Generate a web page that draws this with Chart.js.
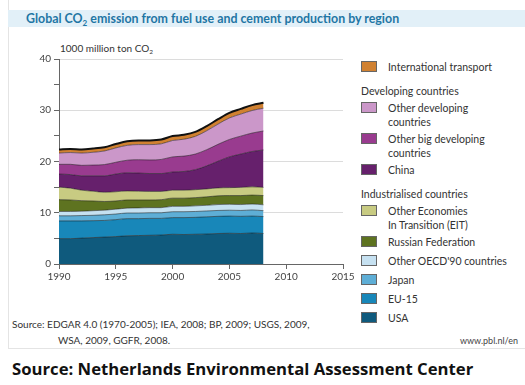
<!DOCTYPE html>
<html>
<head>
<meta charset="utf-8">
<script src="https://cdn.jsdelivr.net/npm/chart.js@4.4.0/dist/chart.umd.min.js"></script>
<style>
  body { margin: 0; width: 525px; height: 385px; background: #fff; font-family: Lato, "Open Sans", sans-serif; position: relative; overflow: hidden; }
  #card { position: absolute; left: 8px; top: 0; width: 517px; height: 348px; border-left: 1px solid #e4e4e4; border-bottom: 1px solid #e4e4e4; }
  #titleBand { position: absolute; left: 8px; top: 10px; width: 517px; height: 17px; background: #e2f0f8; }
  #title { position: absolute; left: 26px; top: 10px; font-size: 12.4px; font-weight: bold; color: #1f76a4; line-height: 17px; white-space: nowrap; }
  #unit { position: absolute; left: 60px; top: 42px; font-size: 10px; color: #333; white-space: nowrap; }
  #chartBox { position: absolute; left: 0; top: 0; width: 360px; height: 300px; }
  #legend { position: absolute; left: 361px; top: 0; font-size: 10.5px; color: #333; }
  .sw { position: absolute; left: 0; width: 16px; height: 11px; border: 1px solid #666; box-sizing: border-box; }
  .lt { position: absolute; left: 27px; line-height: 14px; white-space: nowrap; }
  .hd { position: absolute; left: 0; white-space: nowrap; }
  #src { position: absolute; left: 12px; top: 316px; font-size: 10px; color: #333; line-height: 16px; white-space: nowrap; }
  #www { position: absolute; right: 7px; top: 335px; font-size: 9px; color: #444; }
  #footer { position: absolute; left: 12px; top: 357px; font-family: "Open Sans", sans-serif; font-size: 16.7px; font-weight: bold; color: #111; white-space: nowrap; }
  sub { font-size: 0.65em; vertical-align: -0.35em; line-height: 0; }
</style>
</head>
<body>
<div id="card"></div>
<div id="titleBand"></div>
<div id="title">Global CO<sub>2</sub> emission from fuel use and cement production by region</div>
<div id="unit">1000 million ton CO<sub>2</sub></div>
<div id="chartBox"><canvas id="chartCO2"></canvas></div>
<div id="legend"></div>
<div id="src">Source: EDGAR 4.0 (1970-2005); IEA, 2008; BP, 2009; USGS, 2009,<br><span style="padding-left:46px">WSA, 2009, GGFR, 2008.</span></div>
<div id="www">www.pbl.nl/en</div>
<div id="footer">Source: Netherlands Environmental Assessment Center</div>

<script>
// Jaren en waarden (1000 miljoen ton CO2), van onder naar boven gestapeld
const anos = [1990, 1991, 1992, 1993, 1994, 1995, 1996, 1997, 1998, 1999, 2000, 2001, 2002, 2003, 2004, 2005, 2006, 2007, 2008];
const usa = [4.95, 4.95, 5.05, 5.15, 5.25, 5.35, 5.5, 5.55, 5.6, 5.65, 5.8, 5.75, 5.8, 5.85, 5.95, 6.0, 5.95, 6.05, 5.95];
const eu15 = [3.45, 3.45, 3.35, 3.3, 3.25, 3.3, 3.35, 3.3, 3.3, 3.25, 3.25, 3.3, 3.3, 3.35, 3.35, 3.35, 3.35, 3.3, 3.3];
const japan = [1.0, 1.0, 1.05, 1.05, 1.1, 1.1, 1.1, 1.1, 1.1, 1.1, 1.15, 1.15, 1.15, 1.15, 1.15, 1.15, 1.15, 1.2, 1.15];
const otherOecd = [0.85, 0.85, 0.85, 0.9, 0.9, 0.95, 0.95, 1.0, 1.0, 1.0, 1.05, 1.05, 1.1, 1.1, 1.15, 1.15, 1.15, 1.15, 1.15];
const russia = [2.3, 2.25, 2.05, 1.9, 1.7, 1.6, 1.6, 1.55, 1.5, 1.55, 1.6, 1.6, 1.6, 1.65, 1.7, 1.7, 1.75, 1.75, 1.8];
const otherEit = [2.45, 2.3, 2.05, 1.9, 1.8, 1.8, 1.75, 1.7, 1.65, 1.6, 1.55, 1.55, 1.55, 1.55, 1.55, 1.55, 1.6, 1.6, 1.6];
const china = [2.55, 2.65, 2.8, 3.0, 3.2, 3.45, 3.55, 3.55, 3.5, 3.5, 3.55, 3.65, 3.9, 4.5, 5.2, 6.0, 6.5, 6.9, 7.3];
const otherBig = [1.9, 2.0, 2.05, 2.1, 2.2, 2.3, 2.45, 2.6, 2.65, 2.75, 2.95, 3.0, 3.05, 3.15, 3.3, 3.4, 3.5, 3.6, 3.7];
const otherDev = [2.2, 2.3, 2.4, 2.5, 2.65, 2.8, 2.9, 2.95, 3.0, 3.05, 3.2, 3.3, 3.45, 3.7, 3.95, 4.2, 4.3, 4.4, 4.45];
const intlTransport = [0.7, 0.7, 0.7, 0.72, 0.74, 0.76, 0.78, 0.8, 0.82, 0.84, 0.86, 0.86, 0.87, 0.9, 0.95, 1.0, 1.02, 1.05, 1.05];

const xTicks = [1990, 1995, 2000, 2005, 2010, 2015];
const yTicks = [0, 10, 20, 30, 40];

const series = [
  { label: 'USA', data: usa, color: '#0f5a7d' },
  { label: 'EU-15', data: eu15, color: '#1887b9' },
  { label: 'Japan', data: japan, color: '#5eaed6' },
  { label: "Other OECD'90 countries", data: otherOecd, color: '#c6e1f1' },
  { label: 'Russian Federation', data: russia, color: '#5e7320' },
  { label: 'Other Economies In Transition (EIT)', data: otherEit, color: '#c8cb82' },
  { label: 'China', data: china, color: '#66206c' },
  { label: 'Other big developing countries', data: otherBig, color: '#993b8f' },
  { label: 'Other developing countries', data: otherDev, color: '#cb97c9' },
  { label: 'International transport', data: intlTransport, color: '#d08131' }
];

const datasets = series.map((s, i) => ({
  label: s.label,
  data: anos.map((a, j) => ({ x: a, y: s.data[j] })),
  backgroundColor: s.color,
  borderColor: i === series.length - 1 ? '#111' : 'rgba(20,20,20,0.75)',
  borderWidth: i === series.length - 1 ? 2 : 0.7,
  fill: i === 0 ? 'origin' : '-1',
  pointRadius: 0,
  cubicInterpolationMode: 'monotone'
}));

const ctx = document.getElementById('chartCO2').getContext('2d');
new Chart(ctx, {
  type: 'line',
  data: { datasets: datasets },
  options: {
    responsive: true,
    maintainAspectRatio: false,
    animation: false,
    layout: { padding: { left: 0, right: 17, top: 59, bottom: 0 } },
    plugins: { legend: { display: false }, tooltip: { enabled: false } },
    scales: {
      x: {
        type: 'linear',
        min: xTicks[0],
        max: xTicks[xTicks.length - 1],
        afterBuildTicks: axis => { axis.ticks = xTicks.map(v => ({ value: v })); },
        afterFit: axis => { axis.height = 36; },
        border: { color: '#666', width: 1 },
        grid: { drawOnChartArea: false, drawTicks: true, tickLength: 5, color: '#666' },
        ticks: { color: '#444', font: { family: 'Lato', size: 10 }, padding: 2, maxRotation: 0, callback: v => String(v) }
      },
      y: {
        stacked: true,
        min: 0,
        max: 40,
        ticks: {
          stepSize: 5,
          color: '#444',
          font: { family: 'Lato', size: 10 },
          padding: 3,
          callback: v => yTicks.includes(v) ? String(v) : ''
        },
        afterFit: axis => { axis.width = 59; },
        border: { color: '#666', width: 1 },
        grid: {
          tickLength: 5,
          tickColor: '#666',
          color: c => (c.tick && c.tick.value % 10 === 0) ? '#dcdcdc' : 'rgba(0,0,0,0)'
        }
      }
    }
  }
});

// Legenda opbouwen (zelfde volgorde als in de figuur)
const legendItems = [
  { t: 'sw', i: 9, top: 61, lines: ['International transport'] },
  { t: 'hd', top: 85, text: 'Developing countries' },
  { t: 'sw', i: 8, top: 102, lines: ['Other developing', 'countries'] },
  { t: 'sw', i: 7, top: 133, lines: ['Other big developing', 'countries'] },
  { t: 'sw', i: 6, top: 164, lines: ['China'] },
  { t: 'hd', top: 188, text: 'Industrialised countries' },
  { t: 'sw', i: 5, top: 205, lines: ['Other Economies', 'In Transition (EIT)'] },
  { t: 'sw', i: 4, top: 236, lines: ['Russian Federation'] },
  { t: 'sw', i: 3, top: 255, lines: ["Other OECD'90 countries"] },
  { t: 'sw', i: 2, top: 274, lines: ['Japan'] },
  { t: 'sw', i: 1, top: 293, lines: ['EU-15'] },
  { t: 'sw', i: 0, top: 312, lines: ['USA'] }
];
const legend = document.getElementById('legend');
legendItems.forEach(item => {
  if (item.t === 'hd') {
    const d = document.createElement('div');
    d.className = 'hd';
    d.style.top = item.top + 'px';
    d.textContent = item.text;
    legend.appendChild(d);
    return;
  }
  const sw = document.createElement('div');
  sw.className = 'sw';
  sw.style.top = item.top + 'px';
  sw.style.background = series[item.i].color;
  legend.appendChild(sw);
  const lt = document.createElement('div');
  lt.className = 'lt';
  lt.style.top = (item.top - 1) + 'px';
  lt.innerHTML = item.lines.join('<br>');
  legend.appendChild(lt);
});
</script>
</body>
</html>
